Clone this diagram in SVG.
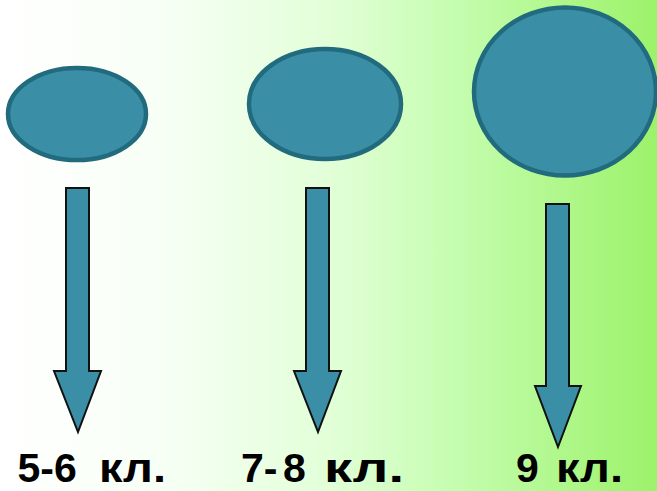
<svg xmlns="http://www.w3.org/2000/svg" width="657" height="491" viewBox="0 0 657 491">
<defs>
<linearGradient id="bg" x1="0" y1="0" x2="1" y2="0">
<stop offset="0" stop-color="#ffffff"/>
<stop offset="0.25" stop-color="#f7fff5"/>
<stop offset="0.5" stop-color="#e2ffd8"/>
<stop offset="0.7" stop-color="#c4fdae"/>
<stop offset="1" stop-color="#9cf26a"/>
</linearGradient>
<style>
.blob{fill:#3a8fa6;stroke:#226b7e;stroke-width:4.5}
.arr{fill:#3a8fa6;stroke:#111;stroke-width:2;stroke-linejoin:miter}
.lbl{font-family:"Liberation Sans",Arial,sans-serif;font-weight:bold;font-size:41px;fill:#000}
</style>
</defs>
<rect x="0" y="0" width="657" height="491" fill="url(#bg)"/>
<g id="node-1">
<ellipse class="blob" cx="77" cy="114" rx="69" ry="46"/>
</g>
<g id="node-2">
<ellipse class="blob" cx="325" cy="104" rx="76" ry="55"/>
</g>
<g id="node-3">
<ellipse class="blob" cx="565" cy="91.5" rx="91" ry="84"/>
</g>
<g id="connectors">
<path class="arr" d="M66,188 H89 V371 H101 L78,432 L54,371 H66 Z"/>
<path class="arr" d="M306,188 H329 V371 H341 L318,432 L294,371 H306 Z"/>
<path class="arr" d="M546,204 H569 V386 H581 L558,447 L535,386 H546 Z"/>
</g>
<g id="labels">
<text class="lbl" y="482"><tspan x="17.5">5-6</tspan> <tspan x="99" textLength="67" lengthAdjust="spacingAndGlyphs">кл.</tspan></text>
<text class="lbl" y="482"><tspan x="241">7-</tspan> <tspan x="283">8</tspan> <tspan x="324" textLength="80" lengthAdjust="spacingAndGlyphs">кл.</tspan></text>
<text class="lbl" y="482"><tspan x="516">9</tspan> <tspan x="556" textLength="67" lengthAdjust="spacingAndGlyphs">кл.</tspan></text>
</g>
</svg>
